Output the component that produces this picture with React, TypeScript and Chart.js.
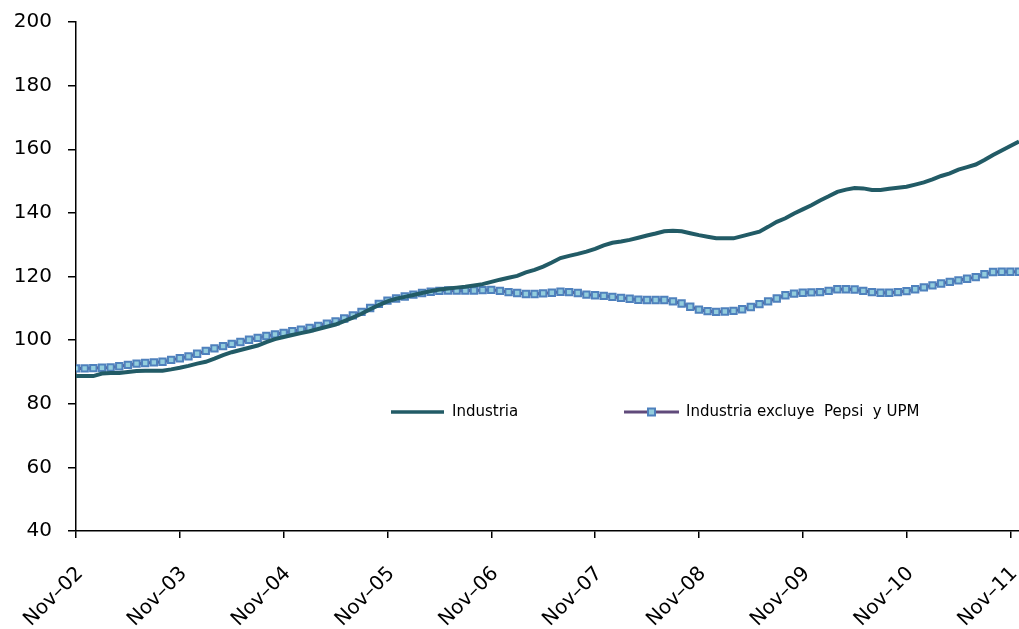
import React, { useEffect, useRef } from "react";
import { Chart, registerables } from "chart.js";

Chart.register(...registerables);

// Tick labels for the x axis (one every 12 months, starting at Nov-02 = month index 0)
const xTickLabels = ["Nov–02", "Nov–03", "Nov–04", "Nov–05", "Nov–06", "Nov–07", "Nov–08", "Nov–09", "Nov–10", "Nov–11"];

const seriesNames = ["Industria", "Industria excluye  Pepsi  y UPM"];

// Monthly index values, Nov-02 .. Dec-11
const industria = [
  88.7, 88.7, 88.7, 89.5, 89.7, 89.7, 90.0, 90.3, 90.4, 90.4, 90.4, 90.8,
  91.3, 91.9, 92.6, 93.2, 94.2, 95.3, 96.2, 96.9, 97.6, 98.3, 99.4, 100.3,
  101.0, 101.6, 102.2, 102.8, 103.5, 104.2, 104.9, 106.0, 107.1, 108.3, 109.7, 111.0,
  112.2, 113.0, 113.6, 114.2, 114.8, 115.4, 115.9, 116.2, 116.5, 116.8, 117.2, 117.6,
  118.3, 119.0, 119.6, 120.2, 121.3, 122.1, 123.1, 124.4, 125.8, 126.5, 127.1, 127.8,
  128.7, 129.8, 130.6, 131.0, 131.5, 132.2, 132.9, 133.5, 134.2, 134.4, 134.2, 133.6,
  133.0, 132.5, 132.0, 132.0, 132.0, 132.7, 133.4, 134.1, 135.6, 137.2, 138.3, 139.8,
  141.1, 142.4, 143.9, 145.2, 146.6, 147.3, 147.8, 147.7, 147.2, 147.2, 147.6, 147.9,
  148.2, 148.9, 149.6, 150.5, 151.6, 152.4, 153.6, 154.4, 155.2, 156.6, 158.2, 159.6,
  161.0, 162.4,
];

const industriaExcl = [
  91.1, 91.1, 91.2, 91.3, 91.4, 91.8, 92.2, 92.6, 92.8, 93.0, 93.2, 93.8,
  94.3, 94.9, 95.7, 96.6, 97.4, 98.1, 98.8, 99.4, 100.1, 100.7, 101.3, 101.8,
  102.3, 102.8, 103.3, 103.8, 104.5, 105.2, 105.9, 106.8, 107.8, 108.9, 110.1, 111.4,
  112.4, 113.1, 113.7, 114.3, 114.8, 115.2, 115.5, 115.6, 115.6, 115.6, 115.6, 115.7,
  115.8, 115.5, 115.1, 114.8, 114.5, 114.5, 114.7, 114.9, 115.2, 115.1, 114.8, 114.3,
  114.1, 113.9, 113.6, 113.3, 113.0, 112.7, 112.6, 112.6, 112.6, 112.2, 111.5, 110.5,
  109.6, 109.1, 108.9, 109.0, 109.2, 109.7, 110.4, 111.3, 112.2, 113.1, 114.1, 114.6,
  114.9, 115.0, 115.1, 115.5, 116.0, 116.0, 115.9, 115.5, 115.1, 114.9, 114.9, 115.1,
  115.4, 116.0, 116.6, 117.2, 117.8, 118.3, 118.8, 119.3, 119.8, 120.7, 121.4, 121.5,
  121.5, 121.5,
];

const COLOR_IND = "#225B66";
const COLOR_EXCL_LINE = "#604A7B";
const COLOR_MARK_FILL = "#93CDDD";
const COLOR_MARK_BORDER = "#4F81BD";
const FONT = "'DejaVu Sans', Verdana, sans-serif";

const legendPlugin = {
  id: "insideLegend",
  afterDatasetsDraw(chart: any) {
    const { ctx, chartArea } = chart;
    const y = chartArea.top + 390;
    ctx.save();
    ctx.font = `15px ${FONT}`;
    ctx.textBaseline = "middle";
    ctx.fillStyle = "#000";
    // series 1
    let x0 = chartArea.left + 315;
    ctx.strokeStyle = COLOR_IND;
    ctx.lineWidth = 3.5;
    ctx.beginPath();
    ctx.moveTo(x0, y);
    ctx.lineTo(x0 + 53, y);
    ctx.stroke();
    ctx.fillText(seriesNames[0], x0 + 61, y);
    // series 2
    x0 = chartArea.left + 548;
    ctx.strokeStyle = COLOR_EXCL_LINE;
    ctx.lineWidth = 3;
    ctx.beginPath();
    ctx.moveTo(x0, y);
    ctx.lineTo(x0 + 55, y);
    ctx.stroke();
    ctx.fillStyle = COLOR_MARK_FILL;
    ctx.strokeStyle = COLOR_MARK_BORDER;
    ctx.lineWidth = 2;
    ctx.fillRect(x0 + 24, y - 3.5, 7, 7);
    ctx.strokeRect(x0 + 24, y - 3.5, 7, 7);
    ctx.fillStyle = "#000";
    ctx.fillText(seriesNames[1], x0 + 62, y);
    ctx.restore();
  },
};

export default function App() {
  const ref = useRef<HTMLCanvasElement | null>(null);
  useEffect(() => {
    document.body.style.margin = "0";
    const canvas = ref.current!;
    const chart = new Chart(canvas, {
      type: "line",
      data: {
        datasets: [
          {
            label: seriesNames[0],
            data: industria.map((v, i) => ({ x: i, y: v })),
            borderColor: COLOR_IND,
            borderWidth: 4,
            pointRadius: 0,
            tension: 0,
            fill: false,
          },
          {
            label: seriesNames[1],
            data: industriaExcl.map((v, i) => ({ x: i, y: v })),
            borderColor: COLOR_EXCL_LINE,
            borderWidth: 3,
            pointStyle: "rect",
            pointRadius: 4.5,
            pointBorderWidth: 2,
            pointBackgroundColor: COLOR_MARK_FILL,
            pointBorderColor: COLOR_MARK_BORDER,
            tension: 0,
            fill: false,
          },
        ],
      },
      options: {
        animation: false,
        responsive: false,
        devicePixelRatio: 1,
        layout: { autoPadding: false, padding: { top: 22, left: 0, right: 0, bottom: 0 } },
        plugins: { legend: { display: false }, tooltip: { enabled: false } },
        scales: {
          x: {
            type: "linear",
            min: 0,
            max: 109,
            afterBuildTicks: (scale: any) => {
              scale.ticks = xTickLabels.map((_, k) => ({ value: k * 12 }));
            },
            afterFit: (scale: any) => {
              scale.height = 98;
              scale.paddingLeft = 0;
              scale.paddingRight = 0;
            },
            ticks: {
              autoSkip: false,
              minRotation: 45,
              maxRotation: 45,
              padding: 24,
              labelOffset: 4,
              color: "#000",
              font: { family: FONT, size: 20 },
              callback: (v: any) => xTickLabels[Math.round(Number(v) / 12)] ?? "",
            },
            grid: { drawOnChartArea: false, drawTicks: true, tickLength: 7, color: "#000", lineWidth: 1.5 },
            border: { display: true, color: "#000", width: 1.5 },
          },
          y: {
            min: 40,
            max: 200,
            afterFit: (scale: any) => {
              scale.width = 76;
              scale.paddingTop = 0;
              scale.paddingBottom = 0;
            },
            ticks: {
              stepSize: 20,
              padding: 16,
              color: "#000",
              font: { family: FONT, size: 20 },
            },
            grid: { drawOnChartArea: false, drawTicks: true, tickLength: 8, color: "#000", lineWidth: 1.5 },
            border: { display: true, color: "#000", width: 1.5 },
          },
        },
      },
      plugins: [legendPlugin],
    });
    return () => chart.destroy();
  }, []);
  return (
    <div style={{ position: "absolute", left: 0, top: 0, width: 1019, height: 629, background: "#fff" }}>
      <canvas ref={ref} width={1019} height={629} style={{ width: 1019, height: 629, display: "block" }} />
    </div>
  );
}
